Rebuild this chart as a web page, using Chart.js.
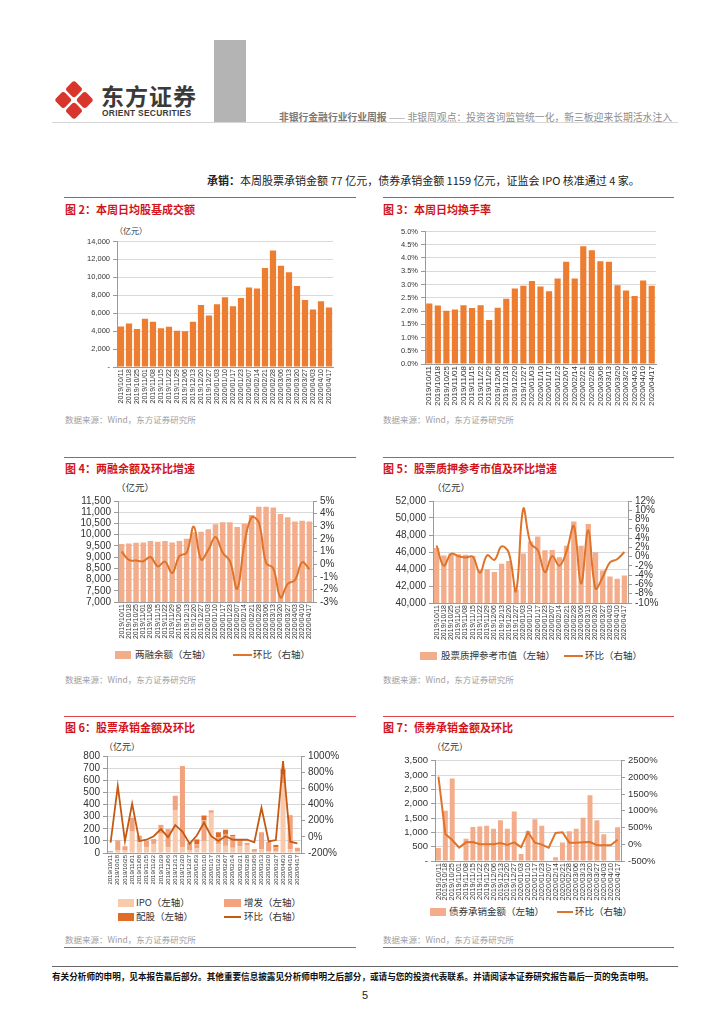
<!DOCTYPE html>
<html>
<head>
<meta charset="utf-8">
<script src="https://cdn.jsdelivr.net/npm/chart.js@4.4.0/dist/chart.umd.min.js"></script>
<style>
body { margin: 0; background: #fff; }
#page { position: relative; width: 724px; height: 1024px; overflow: hidden; font-family: "Noto Sans CJK SC", sans-serif; }
.t { position: absolute; white-space: nowrap; line-height: 1; }
.title { font-size: 11px; font-weight: bold; color: #d2141c; }
.src { font-size: 8.5px; color: #a0a0a0; }
.unit { color: #333; }
.rule { position: absolute; height: 1px; background: #e0474c; }
.box { position: absolute; }
.lg { position: absolute; white-space: nowrap; line-height: 1; color: #333; }
.sw { position: absolute; }
</style>
</head>
<body>
<div id="page">
  <!-- header -->
  <svg class="box" style="left:50px;top:76px" width="50" height="50" viewBox="50 76 50 50">
    <g transform="rotate(45 74 100)" fill="#d8352d">
      <rect x="60" y="86" width="12.8" height="12.8" rx="3"/>
      <rect x="75.2" y="86" width="12.8" height="12.8" rx="3"/>
      <rect x="60" y="101.2" width="12.8" height="12.8" rx="3"/>
      <rect x="75.2" y="101.2" width="12.8" height="12.8" rx="3"/>
    </g>
  </svg>
  <div class="t" style="left:101px;top:84px;font-size:23px;font-weight:bold;color:#3a3a3a;letter-spacing:1px">东方证券</div>
  <div class="t" style="left:102px;top:109px;font-size:8.4px;font-weight:bold;color:#3a3a3a;letter-spacing:0.3px;font-family:'Liberation Sans',sans-serif">ORIENT SECURITIES</div>
  <div class="box" style="left:214px;top:40px;width:32px;height:82px;background:#b4b4b4"></div>
  <div class="box" style="left:52px;top:122px;width:626px;height:1px;background:#d6d6d6"></div>
  <div class="t" style="right:52px;top:113px;font-size:9.8px;color:#8c8c8c"><b style="color:#777">非银行金融行业行业周报</b> —— 非银周观点：投资咨询监管统一化，新三板迎来长期活水注入</div>
  <div class="t" style="left:207px;top:175px;font-size:11px;color:#222"><b>承销：</b>本周股票承销金额 77 亿元，债券承销金额 1159 亿元，证监会 IPO 核准通过 4 家。</div>

  <!-- figure 2 -->
  <div class="rule" style="left:64px;top:197px;width:292px"></div>
  <div class="t title" style="left:65px;top:204px">图 2：本周日均股基成交额</div>
  <div class="t unit" style="left:115px;top:227px;font-size:8px">（亿元）</div>
  <div class="box" style="left:60px;top:234px;width:280px;height:172px"><canvas id="c2" width="280" height="172"></canvas></div>
  <div class="t src" style="left:65px;top:415px">数据来源：Wind，东方证券研究所</div>

  <!-- figure 3 -->
  <div class="rule" style="left:383px;top:197px;width:291px"></div>
  <div class="t title" style="left:383px;top:204px">图 3：本周日均换手率</div>
  <div class="box" style="left:375px;top:224px;width:290px;height:184px"><canvas id="c3" width="290" height="184"></canvas></div>
  <div class="t src" style="left:383px;top:415px">数据来源：Wind，东方证券研究所</div>

  <!-- figure 4 -->
  <div class="rule" style="left:64px;top:457px;width:292px"></div>
  <div class="t title" style="left:65px;top:463px">图 4：两融余额及环比增速</div>
  <div class="t unit" style="left:116px;top:483px;font-size:9.5px">（亿元）</div>
  <div class="box" style="left:62px;top:492px;width:285px;height:149px"><canvas id="c4" width="285" height="149"></canvas></div>
  <div class="sw" style="left:115px;top:651px;width:16px;height:8px;background:#f3ad8a"></div>
  <div class="lg" style="left:135px;top:650px;font-size:9.5px">两融余额（左轴）</div>
  <div class="sw" style="left:233px;top:654px;width:19px;height:2px;background:#df7329"></div>
  <div class="lg" style="left:253px;top:650px;font-size:9.5px">环比（右轴）</div>
  <div class="t src" style="left:65px;top:675px">数据来源：Wind，东方证券研究所</div>

  <!-- figure 5 -->
  <div class="rule" style="left:383px;top:457px;width:291px"></div>
  <div class="t title" style="left:383px;top:463px">图 5：股票质押参考市值及环比增速</div>
  <div class="t unit" style="left:432px;top:483px;font-size:9.5px">（亿元）</div>
  <div class="box" style="left:378px;top:492px;width:290px;height:150px"><canvas id="c5" width="290" height="150"></canvas></div>
  <div class="sw" style="left:420px;top:652px;width:17px;height:8px;background:#f3ad8a"></div>
  <div class="lg" style="left:441px;top:651px;font-size:9.5px">股票质押参考市值（左轴）</div>
  <div class="sw" style="left:564px;top:655px;width:19px;height:2px;background:#df7329"></div>
  <div class="lg" style="left:585px;top:651px;font-size:9.5px">环比（右轴）</div>
  <div class="t src" style="left:383px;top:675px">数据来源：Wind，东方证券研究所</div>

  <!-- figure 6 -->
  <div class="rule" style="left:64px;top:716px;width:292px"></div>
  <div class="t title" style="left:65px;top:722px">图 6：股票承销金额及环比</div>
  <div class="t unit" style="left:104px;top:742px;font-size:9px">（亿元）</div>
  <div class="box" style="left:68px;top:747px;width:272px;height:139px"><canvas id="c6" width="272" height="139"></canvas></div>
  <div class="sw" style="left:118px;top:899px;width:16px;height:8px;background:#f8c9ab"></div>
  <div class="lg" style="left:136px;top:898px;font-size:9.5px">IPO（左轴）</div>
  <div class="sw" style="left:224px;top:899px;width:17px;height:8px;background:#f2a27d"></div>
  <div class="lg" style="left:244px;top:898px;font-size:9.5px">增发（左轴）</div>
  <div class="sw" style="left:118px;top:913px;width:16px;height:8px;background:#e06d27"></div>
  <div class="lg" style="left:136px;top:912px;font-size:9.5px">配股（左轴）</div>
  <div class="sw" style="left:224px;top:916px;width:17px;height:2px;background:#c45a14"></div>
  <div class="lg" style="left:244px;top:912px;font-size:9.5px">环比（右轴）</div>
  <div class="t src" style="left:65px;top:935px">数据来源：Wind，东方证券研究所</div>
  <div class="rule" style="left:64px;top:947px;width:292px"></div>

  <!-- figure 7 -->
  <div class="rule" style="left:383px;top:716px;width:291px"></div>
  <div class="t title" style="left:383px;top:722px">图 7：债券承销金额及环比</div>
  <div class="t unit" style="left:432px;top:742px;font-size:9px">（亿元）</div>
  <div class="box" style="left:385px;top:752px;width:275px;height:150px"><canvas id="c7" width="275" height="150"></canvas></div>
  <div class="sw" style="left:430px;top:908px;width:16px;height:8px;background:#f3ad8a"></div>
  <div class="lg" style="left:449px;top:907px;font-size:9.5px">债券承销金额（左轴）</div>
  <div class="sw" style="left:557px;top:911px;width:16px;height:2px;background:#df7329"></div>
  <div class="lg" style="left:575px;top:907px;font-size:9.5px">环比（右轴）</div>
  <div class="t src" style="left:383px;top:935px">数据来源：Wind，东方证券研究所</div>
  <div class="rule" style="left:383px;top:947px;width:291px"></div>

  <!-- footer -->
  <div class="box" style="left:52px;top:966px;width:626px;height:1px;background:#666"></div>
  <div class="t" style="left:52px;top:972px;font-size:8.6px;font-weight:bold;color:#111">有关分析师的申明，见本报告最后部分。其他重要信息披露见分析师申明之后部分，或请与您的投资代表联系。并请阅读本证券研究报告最后一页的免责申明。</div>
  <div class="t" style="left:362px;top:990px;font-size:11px;color:#222;font-family:'Liberation Sans',sans-serif">5</div>
</div>

<script>
// weekly dates shared by every figure
const dates = ["2019/10/11", "2019/10/18", "2019/10/25", "2019/11/01", "2019/11/08", "2019/11/15", "2019/11/22",
    "2019/11/29", "2019/12/06", "2019/12/13", "2019/12/20", "2019/12/27", "2020/01/03", "2020/01/10",
    "2020/01/17", "2020/01/23", "2020/02/07", "2020/02/14", "2020/02/21", "2020/02/28", "2020/03/06",
    "2020/03/13", "2020/03/20", "2020/03/27", "2020/04/03", "2020/04/10", "2020/04/17"];

// fig 2 - daily stock+fund turnover (亿元)
const turnover = [4530, 4860, 4240, 5380, 5050, 4310, 4500, 4050, 3980, 5050, 6930, 5750, 7000, 7770,
    6780, 7700, 8880, 8770, 11050, 13000, 11300, 10570, 9030, 7480, 6410, 7330, 6630];

// fig 3 - daily turnover rate (%)
const turnoverRate = [2.28, 2.21, 2.01, 2.06, 2.22, 2.11, 2.22, 1.66, 2.12, 2.46, 2.85, 2.95, 3.13, 2.92,
    2.75, 3.23, 3.86, 3.23, 4.44, 4.29, 3.88, 3.86, 2.97, 2.77, 2.57, 3.15, 2.95];

// fig 4 - margin balance (亿元) and w/w change (%)
const marginBalance = [9584, 9612, 9641, 9655, 9713, 9684, 9713, 9655, 9713, 9814, 10110, 10131, 10246, 10463,
    10549, 10549, 10347, 10491, 10880, 11240, 11240, 11212, 10924, 10780, 10592, 10620, 10592];
const marginChange = [1.0, 0.33, 0.28, 0.23, 0.56, -0.18, 0.2, -0.7, 0.64, 0.9, 2.97, 0.36, 1.13, 2.15,
    0.9, 0.23, -1.95, 1.6, 3.7, 3.3, 0.1, -0.33, -2.64, -1.56, -1.26, 0.15, -0.41];

// fig 5 - pledged stock reference value (亿元) and w/w change (%)
const pledgeValue = [46480, 45600, 45830, 45750, 45680, 45560, 43900, 43960, 43660, 44610, 44950, 41600, 45830, 47240,
    47810, 46210, 46250, 45370, 46740, 49600, 46740, 49300, 45980, 43810, 43120, 42860, 43240];
const pledgeChange = [2.4, -1.95, 0.6, 0.1, -0.2, 0.0, -3.5, 0.3, -0.7, 2.2, 0.8, -7.4, 10.3, 2.9,
    1.4, -3.35, 0.1, -1.95, 1.2, 6.6, -5.8, 5.7, -6.85, -4.4, -1.25, -0.55, 1.0];

// fig 6 - equity underwriting (亿元) and w/w change (%)
const ipoAmount = [8, 24, 20, 176, 90, 50, 75, 160, 50, 355, 48, 24, 37, 100,
    331, 72, 59, 43, 56, 65, 10, 32, 16, 16, 576, 32, 16];
const placementAmount = [8, 80, 36, 115, 54, 49, 40, 72, 147, 117, 669, 59, 35, 170,
    21, 59, 98, 96, 59, 18, 22, 139, 75, 30, 75, 280, 27];
const rightsAmount = [0, 0, 0, 0, 0, 0, 0, 0, 0, 0, 0, 0, 40, 39,
    0, 40, 35, 10, 0, 0, 0, 0, 0, 21, 40, 0, 0];
const equityChange = [-72, 628, -52, 408, -52, -36, 8, 96, -4, 144, 64, -84, 16, 176,
    8, -52, 8, -36, -36, -36, -68, 360, -56, -40, 936, -60, -80];

// fig 7 - bond underwriting (亿元) and w/w change (%)
const bondAmount = [451, 1750, 2878, 0, 779, 1185, 1208, 1230, 1129, 1422, 1129, 1727, 248, 1050,
    1456, 1230, 0, 135, 643, 1038, 1129, 1513, 2292, 1422, 937, 0, 1174];
const bondChange = [2023, 310, 126, -100, 58, 68, 0, 0, 0, 39, -19, 58, -87, 368,
    48, -10, -100, 339, 358, 48, 48, 58, 68, -29, -29, -29, 135];

Chart.defaults.font.family = '"Liberation Sans", "Noto Sans CJK SC", sans-serif';
Chart.defaults.color = "#333";
Chart.defaults.animation = false;

const gridColor = "#d9d9d9";
const axisColor = "#9a9a9a";
const barOrange = "#ed7d31";
const barSalmon = "#f3ad8a";
const lineOrange = "#df7329";

const thousands = (v) => v.toLocaleString("en-US");

const xAxis = (height, size, stacked) => ({
    stacked: !!stacked,
    grid: { display: false, drawTicks: false },
    border: { display: true, color: axisColor },
    ticks: { autoSkip: false, minRotation: 90, maxRotation: 90, font: { size }, padding: 2, color: "#333" },
    afterFit: (scale) => { scale.height = height; }
});

const valueAxis = (position, width, min, max, step, size, format, ownGrid) => ({
    position,
    min,
    max,
    ticks: { stepSize: step, autoSkip: false, font: { size }, padding: 3, callback: format, color: "#333" },
    grid: { drawOnChartArea: ownGrid, color: gridColor, tickLength: 4, tickColor: axisColor },
    border: { display: true, color: axisColor },
    afterFit: (scale) => { scale.width = width; }
});

const baseOptions = (scales, padding) => ({
    responsive: false,
    layout: { padding },
    plugins: { legend: { display: false }, tooltip: { enabled: false } },
    scales
});

const createTurnoverChart = () => {
    new Chart(document.getElementById("c2"), {
        type: "bar",
        data: {
            labels: dates,
            datasets: [{ data: turnover, backgroundColor: barOrange, categoryPercentage: 1, barPercentage: 0.78 }]
        },
        options: baseOptions({
            x: xAxis(39, 7),
            y: valueAxis("left", 57, 0, 14000, 2000, 7.5, (v) => v === 0 ? "-" : thousands(v), true)
        }, { top: 2, right: 7 })
    });
};

const createTurnoverRateChart = () => {
    new Chart(document.getElementById("c3"), {
        type: "bar",
        data: {
            labels: dates,
            datasets: [{ data: turnoverRate, backgroundColor: barOrange, categoryPercentage: 1, barPercentage: 0.72 }]
        },
        options: baseOptions({
            x: xAxis(44, 8),
            y: valueAxis("left", 50, 0, 5, 0.5, 7.5, (v) => v.toFixed(1) + "%", true)
        }, { top: 2, right: 9 })
    });
};

const createMarginChart = () => {
    new Chart(document.getElementById("c4"), {
        data: {
            labels: dates,
            datasets: [
                { type: "line", data: marginChange, yAxisID: "y1", borderColor: lineOrange, borderWidth: 2,
                  pointRadius: 0, tension: 0.4, order: 0 },
                { type: "bar", data: marginBalance, yAxisID: "y", backgroundColor: barSalmon,
                  categoryPercentage: 1, barPercentage: 0.76, order: 1 }
            ]
        },
        options: baseOptions({
            x: xAxis(39, 7),
            y: valueAxis("left", 56, 7000, 11500, 500, 10, thousands, true),
            y1: valueAxis("right", 34, -3, 5, 1, 10, (v) => v + "%", false)
        }, { top: 2 })
    });
};

const createPledgeChart = () => {
    new Chart(document.getElementById("c5"), {
        data: {
            labels: dates,
            datasets: [
                { type: "line", data: pledgeChange, yAxisID: "y1", borderColor: lineOrange, borderWidth: 2,
                  pointRadius: 0, tension: 0.4, order: 0 },
                { type: "bar", data: pledgeValue, yAxisID: "y", backgroundColor: barSalmon,
                  categoryPercentage: 1, barPercentage: 0.74, order: 1 }
            ]
        },
        options: baseOptions({
            x: xAxis(39, 7),
            y: valueAxis("left", 55, 40000, 52000, 2000, 10, thousands, true),
            y1: valueAxis("right", 40, -10, 12, 2, 10, (v) => v + "%", false)
        }, { top: 2 })
    });
};

const createEquityChart = () => {
    new Chart(document.getElementById("c6"), {
        data: {
            labels: dates,
            datasets: [
                { type: "line", data: equityChange, yAxisID: "y1", borderColor: "#c45a14", borderWidth: 1.8,
                  pointRadius: 0, tension: 0, order: 0 },
                { type: "bar", data: ipoAmount, yAxisID: "y", backgroundColor: "#f8c9ab",
                  categoryPercentage: 1, barPercentage: 0.7, order: 1 },
                { type: "bar", data: placementAmount, yAxisID: "y", backgroundColor: "#f2a27d",
                  categoryPercentage: 1, barPercentage: 0.7, order: 1 },
                { type: "bar", data: rightsAmount, yAxisID: "y", backgroundColor: "#e06d27",
                  categoryPercentage: 1, barPercentage: 0.7, order: 1 }
            ]
        },
        options: baseOptions({
            x: xAxis(33, 6, true),
            y: Object.assign(valueAxis("left", 39, 0, 800, 100, 10, (v) => v, true), { stacked: true }),
            y1: valueAxis("right", 39, -200, 1000, 200, 10, (v) => v + "%", false)
        }, { top: 2 })
    });
};

const createBondChart = () => {
    new Chart(document.getElementById("c7"), {
        data: {
            labels: dates,
            datasets: [
                { type: "line", data: bondChange, yAxisID: "y1", borderColor: lineOrange, borderWidth: 2,
                  pointRadius: 0, tension: 0, order: 0 },
                { type: "bar", data: bondAmount, yAxisID: "y", backgroundColor: barSalmon,
                  categoryPercentage: 1, barPercentage: 0.72, order: 1 }
            ]
        },
        options: baseOptions({
            x: xAxis(41, 7.5),
            y: valueAxis("left", 50, 0, 3500, 500, 9.5, (v) => v === 0 ? "-" : thousands(v), true),
            y1: valueAxis("right", 39, -500, 2500, 500, 9.5, (v) => v + "%", false)
        }, { top: 2 })
    });
};

createTurnoverChart();
createTurnoverRateChart();
createMarginChart();
createPledgeChart();
createEquityChart();
createBondChart();
</script>
</body>
</html>
